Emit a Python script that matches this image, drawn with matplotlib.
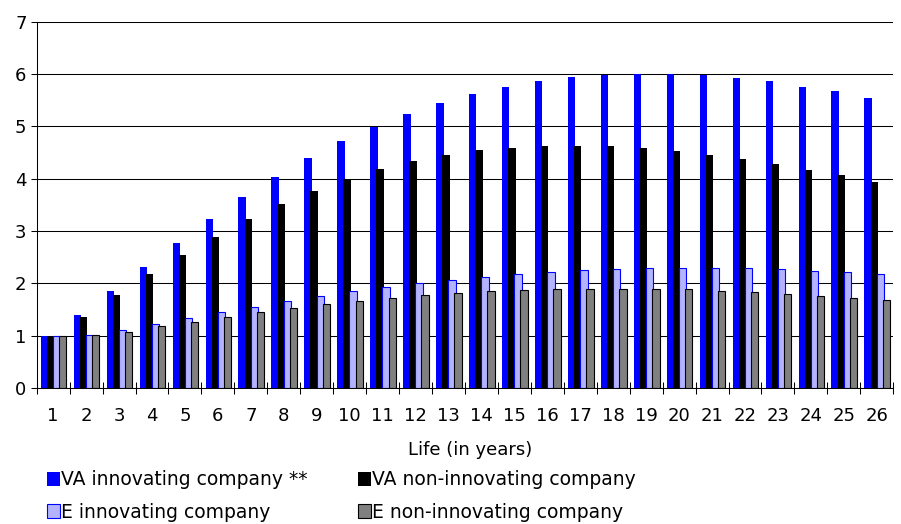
import numpy as np
import matplotlib
matplotlib.use('Agg')
import matplotlib.pyplot as plt

# values per year of life, indexed to 1 at year 1
years = list(range(1, 27))
va_innov = [1.00, 1.40, 1.86, 2.32, 2.78, 3.23, 3.65, 4.04, 4.40, 4.72, 4.99, 5.24, 5.45,
            5.62, 5.75, 5.87, 5.95, 5.99, 6.01, 6.01, 5.98, 5.92, 5.86, 5.76, 5.67, 5.55]
va_non = [1.00, 1.36, 1.77, 2.17, 2.55, 2.89, 3.23, 3.52, 3.77, 4.00, 4.19, 4.34, 4.45,
          4.55, 4.59, 4.63, 4.63, 4.63, 4.59, 4.53, 4.46, 4.38, 4.28, 4.17, 4.07, 3.94]
e_innov = [1.00, 1.02, 1.11, 1.23, 1.34, 1.45, 1.55, 1.66, 1.76, 1.85, 1.93, 2.01, 2.06,
           2.12, 2.18, 2.22, 2.26, 2.27, 2.29, 2.29, 2.29, 2.29, 2.27, 2.24, 2.22, 2.18]
e_non = [1.00, 1.02, 1.08, 1.19, 1.26, 1.36, 1.45, 1.52, 1.61, 1.66, 1.72, 1.78, 1.82,
         1.85, 1.87, 1.89, 1.89, 1.89, 1.89, 1.89, 1.85, 1.84, 1.80, 1.76, 1.72, 1.68]

labels = ['VA innovating company **', 'VA non-innovating company',
          'E innovating company', 'E non-innovating company']

plt.rcParams['font.family'] = ['DejaVu Sans']
plt.rcParams['font.size'] = 13

fig = plt.figure(figsize=(9.01, 5.24), dpi=100)
ax = fig.add_axes([0.0407, 0.2595, 0.9507, 0.699])

x = np.array(years, dtype=float)
step = 0.185
w = 0.225
shift = 0.015

b1 = ax.bar(x - 1.5*step + shift, va_innov, w, color='#0000ff', lw=0, zorder=3)
b2 = ax.bar(x - 0.5*step + shift, va_non, w, color='#000000', lw=0, zorder=3)
b3 = ax.bar(x + 0.5*step + shift, e_innov, w, color='#b3b3ff', edgecolor='#0000ff', lw=0.8, zorder=3)
b4 = ax.bar(x + 1.5*step + shift, e_non, w, color='#808080', edgecolor='#000000', lw=0.8, zorder=3)

ax.set_xlim(0.5, 26.5)
ax.set_ylim(0, 7)
ax.set_yticks(range(0, 8))
ax.set_xticks(years)
ax.set_xticks(np.arange(0.5, 27, 1), minor=True)
ax.tick_params(axis='x', which='major', length=0, pad=13.5)
ax.tick_params(axis='x', which='minor', length=8, width=0.75, direction='inout', color='black')
ax.tick_params(axis='y', length=4.3, width=0.75, pad=3, color='black')

ax.yaxis.grid(True, color='black', lw=0.75)
ax.set_axisbelow(True)
for s in ['top', 'right']:
    ax.spines[s].set_visible(False)
for s in ['left', 'bottom']:
    ax.spines[s].set_linewidth(0.75)
    ax.spines[s].set_zorder(4)

fig.text(470/901, 0.141, 'Life (in years)', ha='center', va='center')

leg_kw = dict(frameon=False, borderpad=0, borderaxespad=0, handlelength=0.7,
              handleheight=0.75, handletextpad=0.05, labelspacing=0.7,
              loc='center left', fontsize=13.5)
fig.legend([b1, b3], [labels[0], labels[2]], bbox_to_anchor=(46.7/901, 0.0535), **leg_kw)
fig.legend([b2, b4], [labels[1], labels[3]], bbox_to_anchor=(358/901, 0.0535), **leg_kw)

fig.savefig('out.png', dpi=100)
